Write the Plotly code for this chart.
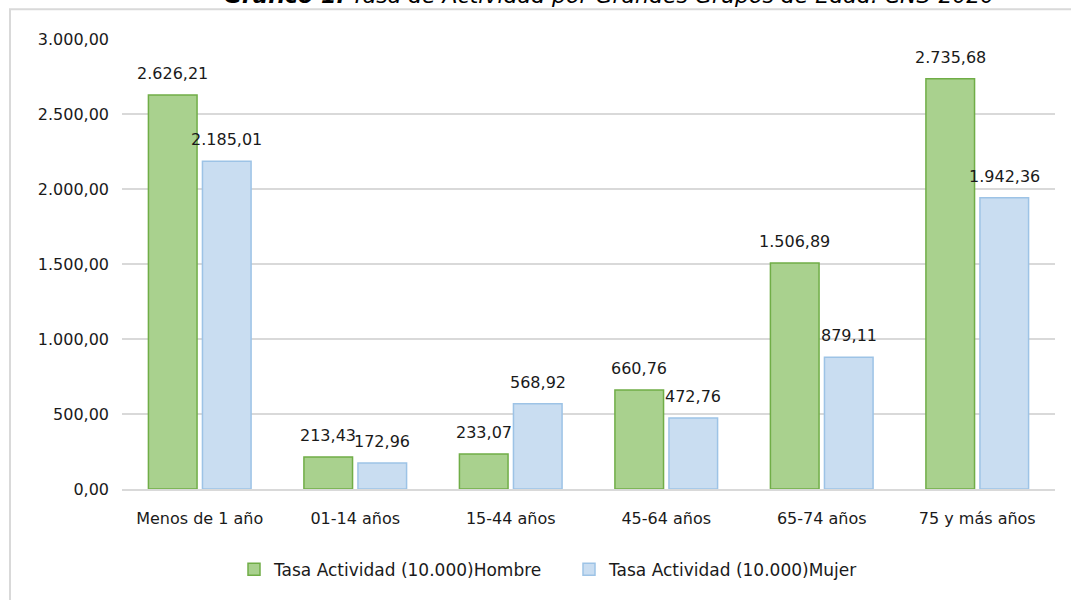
import plotly.graph_objects as go

categories = ["Menos de 1 año", "01-14 años", "15-44 años", "45-64 años", "65-74 años", "75 y más años"]
hombre = [2626.21, 213.43, 233.07, 660.76, 1506.89, 2735.68]
mujer = [2185.01, 172.96, 568.92, 472.76, 879.11, 1942.36]
series_names = ["Tasa Actividad (10.000)Hombre", "Tasa Actividad (10.000)Mujer"]
y_ticks = [0, 500, 1000, 1500, 2000, 2500, 3000]
title_bold = "Gráfico 1."
title_rest = "Tasa de Actividad por Grandes Grupos de Edad. CNS-2020"

FONT = "DejaVu Sans"
TXT = "#1a1a1a"
GRID = "#d9d9d9"

W, H = 1071, 600
ML, MR, MT, MB = 122, 16, 39, 109
PW = W - ML - MR
PH = H - MT - MB

BARGAP = 0.305
GROUPGAP = 0.1

fig = go.Figure()
fig.add_trace(go.Bar(
    x=categories, y=hombre, name=series_names[0],
    marker=dict(color="#a9d18e", line=dict(color="#70ad47", width=1.5)),
))
fig.add_trace(go.Bar(
    x=categories, y=mujer, name=series_names[1],
    marker=dict(color="#c9ddf1", line=dict(color="#9dc3e6", width=1.5)),
))

def fmt(v):
    s = f"{v:,.2f}"
    return s.replace(",", "X").replace(".", ",").replace("X", ".")

# value labels via annotations anchored on the data
slot = (1 - BARGAP) / 2
offs = [-slot / 2, slot / 2]
annotations = []
for k, vals in enumerate([hombre, mujer]):
    for i, v in enumerate(vals):
        annotations.append(dict(
            x=i + offs[k], y=v, xref="x", yref="y", text=fmt(v),
            showarrow=False, yanchor="bottom", xanchor="center", yshift=10,
            font=dict(family=FONT, size=16, color=TXT),
        ))

annotations.append(dict(
    x=(609 - ML) / PW, y=1 + (MT + 5) / PH, xref="paper", yref="paper",
    text=f"<b><i>{title_bold}</i></b><i> {title_rest}</i>",
    showarrow=False, xanchor="center", yanchor="middle",
    font=dict(family=FONT, size=22, color="#000000"),
))

fig.update_layout(
    width=W, height=H,
    margin=dict(l=ML, r=MR, t=MT, b=MB, pad=0),
    paper_bgcolor="white", plot_bgcolor="white",
    barmode="group", bargap=BARGAP, bargroupgap=GROUPGAP,
    separators=",.",
    showlegend=True,
    legend=dict(
        orientation="h", x=(234 - ML) / PW, y=-(572 - (H - MB)) / PH,
        xanchor="left", yanchor="middle",
        font=dict(family=FONT, size=17, color=TXT),
        entrywidth=290, entrywidthmode="pixels", itemwidth=30,
        bgcolor="rgba(0,0,0,0)",
    ),
    annotations=annotations,
    shapes=[dict(
        type="rect", xref="paper", yref="paper",
        x0=(10 - ML) / PW, x1=1.2, y0=-0.5, y1=1 + (MT - 9) / PH,
        line=dict(color=GRID, width=2), fillcolor="rgba(0,0,0,0)", layer="below",
    )],
)

fig.update_xaxes(
    type="category", showgrid=False, showline=True, linecolor=GRID, linewidth=1.5,
    ticks="", tickfont=dict(family=FONT, size=16, color=TXT), ticklabelstandoff=14,
)
fig.update_yaxes(
    range=[0, 3000], tickvals=y_ticks, tickformat=",.2f",
    showgrid=True, gridcolor=GRID, gridwidth=1.5, zeroline=False, showline=False,
    ticks="", tickfont=dict(family=FONT, size=16, color=TXT), ticklabelstandoff=12,
)

fig.write_html("out.html", config={"displayModeBar": False},
               post_script="document.body.style.margin='0';")
